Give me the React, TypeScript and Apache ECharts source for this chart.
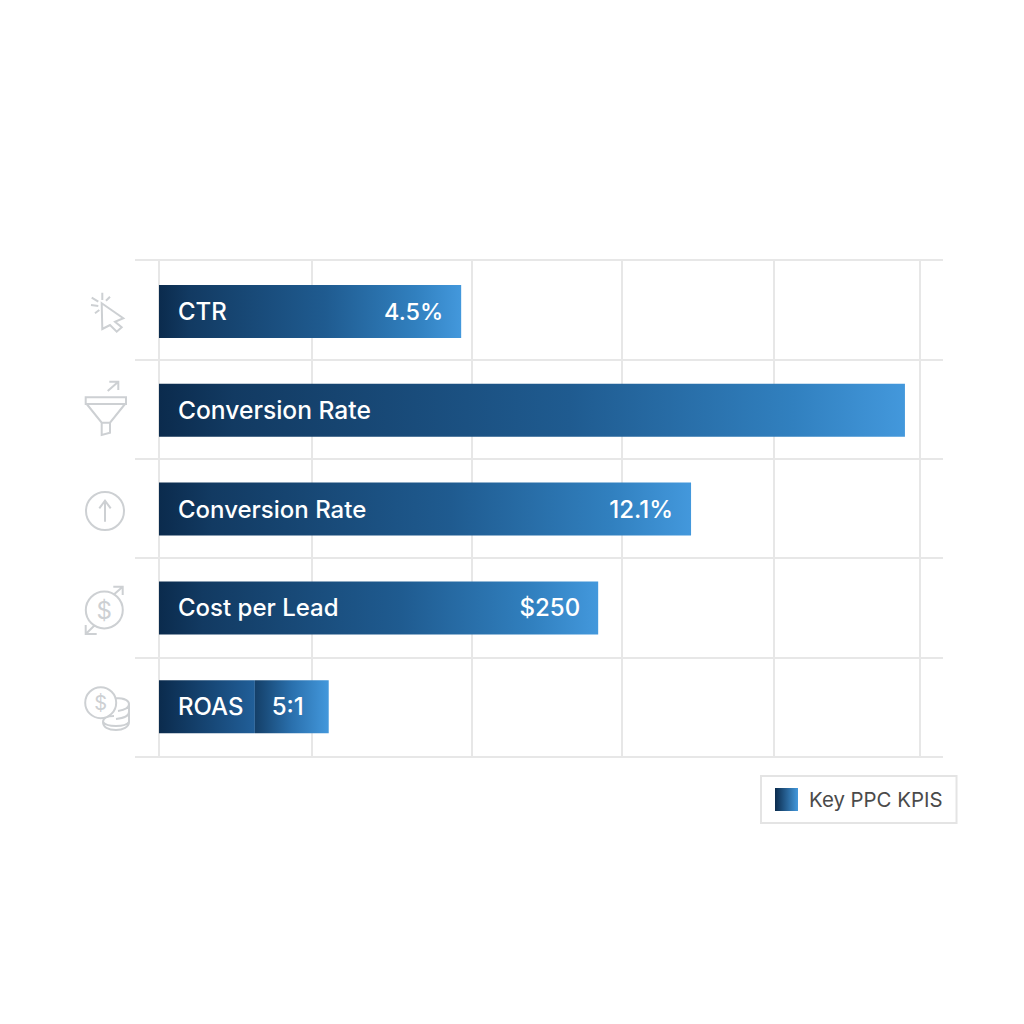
import React, { useEffect, useRef } from "react";
import * as echarts from "echarts";

const categories = ["CTR", "Conversion Rate", "Conversion Rate", "Cost per Lead", "ROAS"];
const barValues = [39.7, 98.0, 69.9, 57.7, 12.6];
const tailValues = [0, 0, 0, 0, 9.7];
const totalValues = [39.7, 98.0, 69.9, 57.7, 22.3];
const valueLabels = ["4.5%", "", "12.1%", "$250", "5:1"];
const gridTicks = [0, 20.1, 41.1, 60.8, 80.7, 100];
const legendName = "Key PPC KPIS";

const FONT = "Inter";
const ICON = "#cdd0d3";
const LINE = "#e7e7e7";

const grad = (stops: [number, string][]) =>
  new echarts.graphic.LinearGradient(0, 0, 1, 0, stops.map(([offset, color]) => ({ offset, color })));

const barGrad = () => grad([[0, "#0b2b4d"], [0.1, "#123a62"], [0.55, "#1f5b90"], [0.85, "#3180bf"], [1, "#4398dc"]]);

const icons: Record<string, string> = {
  icCursor:
    "M101.7 303.3 L123.3 318.3 L115 321.7 L121.7 327.3 L116.7 331.7 L110 325 L102.3 329 Z " +
    "M102.3 292.7 L102.3 300 M110 296.7 L106 300.7 M91.7 297.7 L98.3 301.7 M91 305 L98.3 306 M95 313.3 L99.3 310",
  icFunnel:
    "M85.7 397.3 H126 V404 H85.7 Z M86.7 404 L101.7 422.7 H110 L125 404 M101.7 422.7 V435 L110 432.7 V422.7 " +
    "M107.7 391 L118.3 381.7 M109.3 381.7 H118.3 V390",
  icUp: "M86 511 A19 19 0 1 0 124 511 A19 19 0 1 0 86 511 Z M105 521.7 V500.7 M99.3 508.3 L105 500.7 L110.7 508.3",
  icCost:
    "M85.8 610 A18.5 18.5 0 1 0 122.8 610 A18.5 18.5 0 1 0 85.8 610 Z " +
    "M113.3 595 L122.7 586.7 M113.3 586.7 H122.7 V595 M95 625 L85.7 634 M85.7 625 V634 H96.7",
  icCoins:
    "M85.2 702.7 A15.5 15.5 0 1 0 116.2 702.7 A15.5 15.5 0 1 0 85.2 702.7 Z " +
    "M116 698 C125 698 129 701 129 704 C129 708 125 710 118 711 " +
    "M129 704 V712 C129 716 125 718 116 719 M129 712 V722 " +
    "M103 722 C103 718 108 716 114 716 M129 722 C129 727 123 730 116 730 C108 730 103 727 103 722 " +
    "M103 722 C105 725 110 726 116 726 C122 726 127 725 129 722",
};
Object.entries(icons).forEach(([name, d]) => {
  echarts.graphic.registerShape(name, echarts.graphic.extendPath(d as any, {} as any) as any);
});

export default function App() {
  const ref = useRef<HTMLDivElement>(null);
  useEffect(() => {
    const chart = echarts.init(ref.current!, undefined, { renderer: "svg" });
    const iconStyle = { stroke: ICON, lineWidth: 2, fill: "none" };
    const dollar = (x: number, y: number, size: number) => ({
      type: "text",
      x,
      y,
      silent: true,
      style: { text: "$", fill: ICON, fontFamily: FONT, fontSize: size, align: "center", verticalAlign: "middle" },
    });
    const hiddenAxisParts = {
      axisLine: { show: false },
      axisTick: { show: false },
      axisLabel: { show: false },
    };
    chart.setOption({
      animation: false,
      backgroundColor: "#ffffff",
      grid: [
        { left: 135, right: 81, top: 260, height: 497 },
        { left: 135, right: 81, top: 262.1, height: 494 },
      ],
      xAxis: [
        {
          type: "value",
          gridIndex: 0,
          min: -3.15,
          max: 103,
          axisLine: { show: false },
          axisTick: { show: false, customValues: gridTicks },
          axisLabel: { show: false, customValues: gridTicks },
          splitLine: { show: true, lineStyle: { color: LINE, width: 2 } },
        },
        {
          type: "value",
          gridIndex: 1,
          min: -3.15,
          max: 103,
          ...hiddenAxisParts,
          splitLine: { show: false },
        },
      ],
      yAxis: [
        {
          type: "category",
          gridIndex: 0,
          inverse: true,
          data: categories,
          ...hiddenAxisParts,
          splitLine: { show: true, lineStyle: { color: LINE, width: 2 } },
        },
        {
          type: "category",
          gridIndex: 1,
          inverse: true,
          data: categories,
          ...hiddenAxisParts,
          splitLine: { show: false },
        },
      ],
      legend: {
        show: true,
        data: [{ name: legendName, icon: "rect" }],
        left: 761,
        top: 776,
        padding: [12, 14, 12, 14],
        itemWidth: 23,
        itemHeight: 23,
        itemGap: 0,
        backgroundColor: "#ffffff",
        borderColor: "#e4e4e4",
        borderWidth: 2,
        borderRadius: 0,
        textStyle: { color: "#4a4a4a", fontFamily: FONT, fontSize: 20.4, padding: [0, 0, 0, 6] },
      },
      series: [
        {
          name: legendName,
          type: "bar",
          xAxisIndex: 1,
          yAxisIndex: 1,
          stack: "kpi",
          barWidth: 53,
          itemStyle: { color: grad([[0, "#0b2b4d"], [1, "#4398dc"]]) },
          data: barValues.map((value, i) => ({
            value,
            itemStyle: {
              color: i === 4 ? grad([[0, "#0b2b4d"], [1, "#215f99"]]) : barGrad(),
            },
            label: { fontSize: i === 1 ? 24.6 : 24 },
          })),
          label: {
            show: true,
            position: "insideLeft",
            distance: 19,
            formatter: "{b}",
            color: "#ffffff",
            fontFamily: FONT,
            fontSize: 24,
            fontWeight: 500,
          },
        },
        {
          name: "ROAS tail",
          type: "bar",
          xAxisIndex: 1,
          yAxisIndex: 1,
          stack: "kpi",
          barWidth: 53,
          itemStyle: { color: grad([[0, "#143f68"], [0.5, "#2a70ad"], [1, "#4398dc"]]) },
          data: tailValues,
        },
        {
          name: "Value labels",
          type: "bar",
          xAxisIndex: 1,
          yAxisIndex: 1,
          barWidth: 53,
          barGap: "-100%",
          z: 5,
          itemStyle: { color: "transparent" },
          data: totalValues.map((value, i) => ({
            value,
            label: {
              show: valueLabels[i] !== "",
              position: "insideRight",
              distance: i === 4 ? 25 : 18,
              formatter: valueLabels[i],
              color: "#ffffff",
              fontFamily: FONT,
              fontSize: i === 0 ? 23.4 : 24,
              fontWeight: 500,
            },
          })),
        },
      ],
      graphic: [
        { type: "icCursor", x: 0, y: 0, silent: true, style: iconStyle },
        { type: "icFunnel", x: 0, y: 0, silent: true, style: iconStyle },
        { type: "icUp", x: 0, y: 0, silent: true, style: iconStyle },
        { type: "icCost", x: 0, y: 0, silent: true, style: iconStyle },
        { type: "icCoins", x: 0, y: 0, silent: true, style: iconStyle },
        dollar(104.3, 610, 24),
        dollar(100.7, 703, 20),
      ],
    });
    return () => chart.dispose();
  }, []);
  return (
    <div
      ref={ref}
      style={{ position: "absolute", left: 0, top: 0, width: 1024, height: 1024, background: "#ffffff" }}
    />
  );
}
